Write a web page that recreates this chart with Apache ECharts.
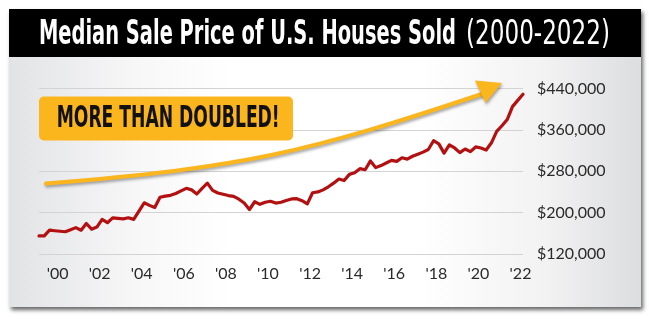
<!DOCTYPE html>
<html><head><meta charset="utf-8">
<script src="https://cdn.jsdelivr.net/npm/echarts@6/dist/echarts.min.js"></script>
<style>html,body{margin:0;padding:0;background:#fff}#c{width:649px;height:328px}</style>
</head><body><div id="c"></div>
<script>
// Quarterly median sale price, 1999 Q1 .. 2022 Q1
const startYear = 1999;
const prices = [
  155000,155000,166000,165000,
  164000,163000,167000,171000,
  166000,179000,168000,172000,
  187000,180500,190000,189000,
  188000,190000,187000,203000,
  219000,214000,210000,229600,
  232000,233500,237000,242000,
  247000,244000,236000,247000,
  257000,243000,238000,235500,
  233000,231500,226000,218500,
  206000,221000,216000,220000,
  222000,218500,220000,223500,
  226500,227000,223000,217000,
  238500,240000,244000,250000,
  257000,265000,262000,274000,
  277000,285000,283000,300000,
  287000,291000,296000,301000,
  299000,306000,303500,309000,
  313000,317000,322000,339000,
  333000,315000,331000,325000,
  316000,323000,318000,327000,
  325000,321000,335000,357000,
  368000,380000,405000,417000,
  429000
];
const categories = prices.map((_, i) => (startYear + Math.floor(i / 4)) + ' Q' + (i % 4 + 1));
const xTickLabels = ["'00","'02","'04","'06","'08","'10","'12","'14","'16","'18","'20","'22"];
const yTicks = [120000, 200000, 280000, 360000, 440000];
const yTickLabels = ['$120,000','$200,000','$280,000','$360,000','$440,000'];

const titleBold = 'Median Sale Price of U.S. Houses Sold';
const titleLight = '(2000-2022)';
const badgeText = 'MORE THAN DOUBLED!';

const NARROW = '"Liberation Sans Narrow", "DejaVu Sans Condensed", "Roboto", sans-serif';
const mctx = document.createElement('canvas').getContext('2d');
function fit(text, font, w) { mctx.font = font; return w / mctx.measureText(text).width; }

const fBold = 'bold 33px ' + NARROW;
const fLight = '33px ' + NARROW;
const fBadge = 'bold 30px ' + NARROW;

const chart = echarts.init(document.getElementById('c'), null, {renderer: 'canvas'});
chart.setOption({
  animation: false,
  backgroundColor: '#ffffff',
  grid: {left: 39, right: 126, top: 88.5, bottom: 74},
  xAxis: {
    type: 'category', data: categories, boundaryGap: false,
    axisLine: {show: false}, axisTick: {show: false}, splitLine: {show: false},
    axisLabel: {
      interval: (idx) => idx % 8 === 4,
      formatter: (v, idx) => xTickLabels[Math.round((idx - 4) / 8)] || '',
      color: '#2a2a2a', fontFamily: 'Lato', fontSize: 16, margin: 12, padding: [0, 5, 0, 0]
    }
  },
  yAxis: {
    type: 'value', position: 'right', min: 120000, max: 440000, interval: 80000,
    axisLine: {show: false}, axisTick: {show: false},
    splitLine: {lineStyle: {color: '#d3d3d3', width: 1}},
    axisLabel: {
      formatter: (v) => yTickLabels[yTicks.indexOf(v)] || '',
      color: '#2a2a2a', fontFamily: 'Lato', fontSize: 16, margin: 14, align: 'left'
    }
  },
  series: [{
    type: 'line', data: prices, symbol: 'none', z: 5,
    lineStyle: {color: '#b31111', width: 3.2, join: 'round', cap: 'round'}
  }],
  graphic: [
    {type: 'rect', z: -10, shape: {x: 9, y: 9, width: 632, height: 298},
     style: {fill: new echarts.graphic.LinearGradient(0, 0, 1, 0, [
       {offset: 0, color: '#e2e3e5'}, {offset: 0.2, color: '#f7f7f8'}, {offset: 0.35, color: '#ffffff'},
       {offset: 0.65, color: '#ffffff'}, {offset: 0.85, color: '#f2f2f3'}, {offset: 1, color: '#dcdddf'}]),
       shadowBlur: 4, shadowOffsetX: 2, shadowOffsetY: 3, shadowColor: 'rgba(0,0,0,0.6)'}},
    {type: 'rect', z: -9, shape: {x: 9, y: 9, width: 632, height: 48}, style: {fill: '#000000'}},
    {type: 'text', z: 50, x: 39, y: 35, scaleX: fit(titleBold, fBold, 417),
     style: {text: titleBold, font: fBold, fill: '#ffffff', textAlign: 'left', textVerticalAlign: 'middle'}},
    {type: 'text', z: 50, x: 466, y: 35, scaleX: fit(titleLight, fLight, 144),
     style: {text: titleLight, font: fLight, fill: '#ffffff', textAlign: 'left', textVerticalAlign: 'middle'}},
    {type: 'rect', z: 50, shape: {x: 39, y: 96.5, width: 254, height: 44, r: 5}, style: {fill: '#fbb51d'}},
    {type: 'text', z: 51, x: 56.7, y: 119.5, scaleX: fit(badgeText, fBadge, 223),
     style: {text: badgeText, font: fBadge, fill: '#111111', textAlign: 'left', textVerticalAlign: 'middle'}},
    {type: 'bezierCurve', z: 50,
     shape: {x1: 46, y1: 183.5, cpx1: 246, cpy1: 167.5, cpx2: 308, cpy2: 152, x2: 482, y2: 94},
     style: {stroke: '#fbb51d', lineWidth: 4, fill: null, lineCap: 'round',
       shadowBlur: 3, shadowOffsetX: 1, shadowOffsetY: 2, shadowColor: 'rgba(0,0,0,0.35)'}},
    {type: 'polygon', z: 51, shape: {points: [[502, 83], [475, 80.5], [485.5, 103]]},
     style: {fill: '#fbb51d', shadowBlur: 3, shadowOffsetX: 1, shadowOffsetY: 2, shadowColor: 'rgba(0,0,0,0.35)'}}
  ]
});
</script></body></html>
